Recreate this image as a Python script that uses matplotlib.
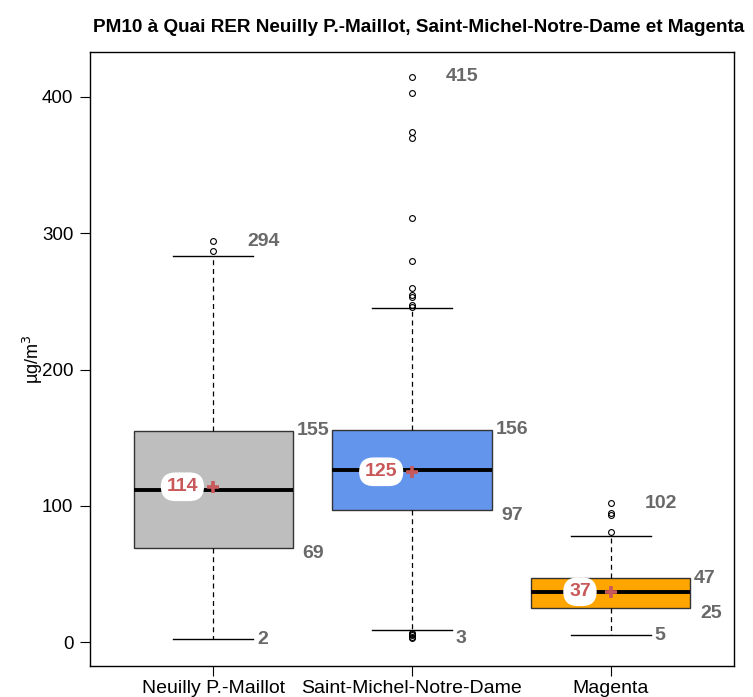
import matplotlib.pyplot as plt
import numpy as np

plt.rcParams['font.family'] = ['Liberation Sans', 'DejaVu Sans']

# PM10 concentrations (µg/m3) per station: box statistics and outliers
stations = ["Neuilly P.-Maillot", "Saint-Michel-Notre-Dame", "Magenta"]
q1 = [69, 97, 25]
medians = [112, 126, 37]
q3 = [155, 156, 47]
means = [114, 125, 37]
whisk_lo = [2, 9, 5]
whisk_hi = [283, 245, 78]
data_min = [2, 3, 5]
data_max = [294, 415, 102]
outliers = [
    [287, 294],
    [3, 4, 5, 6, 7, 246, 247.5, 253, 255, 260, 280, 311, 370, 374, 403, 415],
    [81, 93, 94.5, 102],
]
colors = ["#BEBEBE", "#6495ED", "#FFA500"]

label_grey = "#696969"
mean_red = "#C8585A"
fs_val = 14

fig = plt.figure(figsize=(7.53, 6.97), dpi=100)
ax = fig.add_axes([90 / 753, 31 / 697, 644 / 753, 614 / 697])

stats = []
for i, name in enumerate(stations):
    stats.append(dict(label=name, q1=q1[i], med=medians[i], q3=q3[i],
                      whislo=whisk_lo[i], whishi=whisk_hi[i],
                      fliers=outliers[i], mean=means[i]))

pos = np.arange(1, len(stations) + 1)
bp = ax.bxp(stats, positions=pos, widths=0.8, capwidths=0.4,
            patch_artist=True, showmeans=False,
            boxprops=dict(edgecolor="#333333", linewidth=1.0),
            medianprops=dict(color="black", linewidth=2.8, solid_capstyle="butt"),
            whiskerprops=dict(color="black", linewidth=0.9, linestyle=(0, (4, 3))),
            capprops=dict(color="black", linewidth=1.0),
            flierprops=dict(marker="o", markersize=4.2, markerfacecolor="none",
                            markeredgecolor="black", markeredgewidth=0.8))
for patch, c in zip(bp["boxes"], colors):
    patch.set_facecolor(c)

# mean marker and its label
ax.plot(pos, means, linestyle="none", marker="+", markersize=9,
        color=mean_red, markeredgewidth=2.6, zorder=5)
for x, m in zip(pos, means):
    ax.text(x - 0.155, m, f"{m}", ha="center", va="center", fontsize=fs_val,
            fontweight="bold", color=mean_red, zorder=6,
            bbox=dict(boxstyle="round,pad=0.3,rounding_size=0.75",
                      facecolor="white", edgecolor="none"))

# value annotations for extremes and quartiles
for i, x in enumerate(pos):
    ax.text(x + 0.17, data_max[i], f"{data_max[i]}", ha="left", va="center",
            fontsize=fs_val, fontweight="bold", color=label_grey)
    ax.text(x + 0.22, data_min[i], f"{data_min[i]}", ha="left", va="center",
            fontsize=fs_val, fontweight="bold", color=label_grey)
    ax.text(x + 0.42, q3[i], f"{q3[i]}", ha="left", va="center",
            fontsize=fs_val, fontweight="bold", color=label_grey)
    ax.text(x + 0.45, q1[i] - 4, f"{q1[i]}", ha="left", va="center",
            fontsize=fs_val, fontweight="bold", color=label_grey)

ax.set_xlim(0.38, 3.62)
ax.set_ylim(-17.5, 433)
ax.set_yticks([0, 100, 200, 300, 400])
ax.set_xticks(pos)
ax.set_xticklabels(stations, fontsize=14)
ax.tick_params(axis="y", labelsize=13.5, length=7, width=0.8, pad=5)
ax.tick_params(axis="x", length=7, width=0.8, pad=3)
for s in ax.spines.values():
    s.set_linewidth(1.0)
ax.set_ylabel(r"µg/m$^3$", fontsize=13, labelpad=-2)

fig.text(419 / 753, 1 - 28 / 697,
         "PM10 à Quai RER Neuilly P.-Maillot, Saint-Michel-Notre-Dame et Magenta",
         ha="center", va="center", fontsize=13.6, fontweight="bold")

fig.savefig("out.png", dpi=100)
